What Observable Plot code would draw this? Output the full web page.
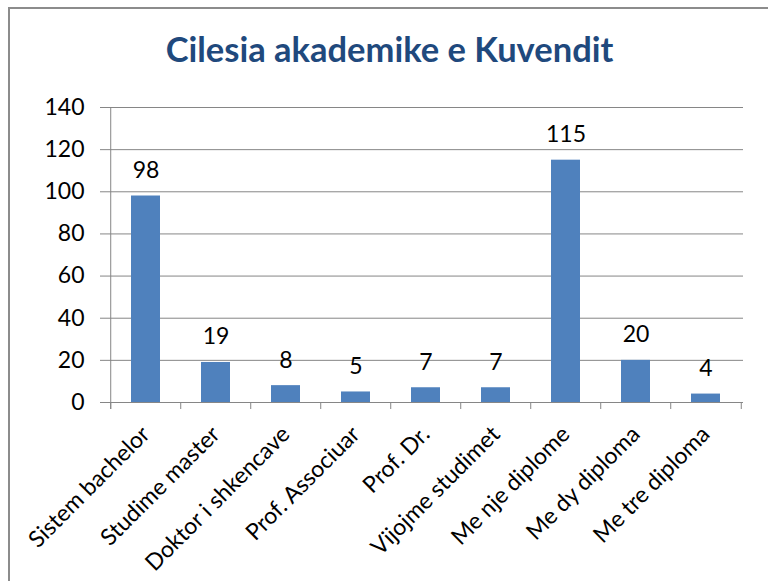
<!DOCTYPE html>
<html>
<head>
<meta charset="utf-8">
<script src="https://cdn.jsdelivr.net/npm/d3@7"></script>
<script src="https://cdn.jsdelivr.net/npm/@observablehq/plot@0.6"></script>
<style>
  html, body { margin: 0; padding: 0; background: #fff; overflow: hidden; }
  #wrap { position: relative; width: 768px; height: 581px; overflow: hidden; }
  #frame { position: absolute; left: 8px; top: 7px; width: 800px; height: 700px;
           border-left: 2px solid #8c8c8c; border-top: 2px solid #8c8c8c; }
  #title { position: absolute; left: 0; top: 32px; width: 779px; text-align: center;
           font-family: Lato, sans-serif; font-weight: bold; font-size: 34.5px; line-height: 34.5px;
           color: #1F497D; }
  #chart { position: absolute; left: 0; top: 0; }
</style>
</head>
<body>
<div id="wrap">
  <div id="frame"></div>
  <div id="title">Cilesia akademike e Kuvendit</div>
  <div id="chart"></div>
</div>
<script>
const categories = ["Sistem bachelor", "Studime master", "Doktor i shkencave", "Prof. Associuar",
  "Prof. Dr.", "Vijojme studimet", "Me nje diplome", "Me dy diploma", "Me tre diploma"];
const values = [98, 19, 8, 5, 7, 7, 115, 20, 4];
const yTicks = [0, 20, 40, 60, 80, 100, 120, 140];

const data = categories.map((c, i) => ({category: c, value: values[i]}));

const W = 768, H = 581;
const mL = 108, mR = 25, mT = 107, mB = 179;
const step = (W - mL - mR) / categories.length;
const axisColor = "#868686";
const font = "Lato, sans-serif";

const chart = Plot.plot({
  width: W,
  height: H,
  marginLeft: mL,
  marginRight: mR,
  marginTop: mT,
  marginBottom: mB,
  style: {background: "transparent", fontFamily: font, fontSize: "23px", color: "#000", overflow: "visible"},
  x: {domain: categories, paddingInner: 0.59, paddingOuter: 0.295, label: null},
  y: {domain: [0, 140], label: null},
  marks: [
    Plot.gridY(yTicks, {stroke: axisColor, strokeOpacity: 1, strokeWidth: 1}),
    Plot.axisY({ticks: yTicks, tickSize: 8, tickPadding: 16, stroke: axisColor, fill: "#000",
      fontSize: 23, label: null}),
    Plot.ruleX([categories[0]], {x: d => d, dx: -step / 2, stroke: axisColor, insetBottom: -7}),
    Plot.ruleX(categories, {x: d => d, dx: -step / 2, y1: d => 0, y2: d => 0, insetBottom: -7, stroke: axisColor}),
    Plot.ruleX([categories[categories.length - 1]], {x: d => d, dx: step / 2, y1: d => 0, y2: d => 0, insetBottom: -7, stroke: axisColor}),
    Plot.barY(data, {x: "category", y: "value", fill: "#4F81BD"}),
    Plot.ruleY([0], {stroke: axisColor}),
    Plot.axisX({tickSize: 0, tickRotate: -45, tickPadding: 28, dx: 0, fontSize: 23, fill: "#000", label: null}),
    Plot.text(data, {x: "category", y: "value", text: d => String(d.value), dy: -18,
      lineAnchor: "bottom", fontSize: 23, fill: "#000"})
  ]
});
document.getElementById("chart").appendChild(chart);
</script>
</body>
</html>
